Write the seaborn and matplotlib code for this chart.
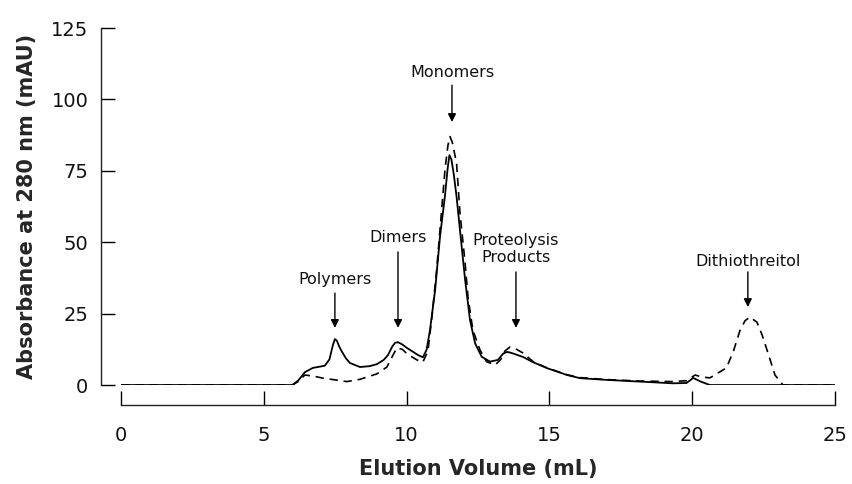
import matplotlib
matplotlib.use("Agg")
import matplotlib.pyplot as plt
import seaborn as sns
import pandas as pd

# Chromatogram traces: elution volume (mL) vs absorbance at 280 nm (mAU)
solid_x = [0, 6.0, 6.2, 6.44, 6.72, 7.0, 7.14, 7.3, 7.42, 7.49, 7.56, 7.64, 7.74,
           7.88, 8.02, 8.37, 8.7, 8.96, 9.2, 9.35, 9.5, 9.6, 9.7, 9.85, 10.01,
           10.2, 10.4, 10.57, 10.7, 10.82, 11.0, 11.17, 11.34, 11.44, 11.5, 11.57,
           11.65, 11.75, 11.93, 12.05, 12.22, 12.4, 12.63, 12.92, 13.2, 13.38,
           13.52, 13.65, 13.8, 14.08, 14.43, 14.92, 15.62, 16.07, 17.0, 18.17,
           19.33, 19.8, 19.95, 20.03, 20.3, 20.62, 25]
solid_y = [0, 0, 1.5, 4.5, 6, 6.5, 6.8, 9, 14, 16.1, 15.5, 13.5, 11.6,
           9.3, 7.7, 6.3, 6.6, 7.3, 8.8, 10.5, 13.5, 14.8, 15, 14.2, 13,
           11.8, 10.5, 9.7, 12.3, 19.3, 33.3, 51.9, 65.9, 76, 80.5, 79,
           74, 66, 48.4, 36.8, 22.8, 14.6, 9.9, 8.2, 8.8, 11,
           11.6, 11.3, 10.8, 9.8, 8, 5.9, 3.5, 2.4, 1.8, 1.2,
           0.6, 0.7, 1.8, 2.5, 1.2, 0, 0]

dashed_x = [0, 6.0, 6.2, 6.44, 6.8, 7.07, 7.5, 7.91, 8.37, 8.96, 9.31, 9.5, 9.66,
            9.85, 10.01, 10.2, 10.36, 10.57, 10.75, 10.9, 11.05, 11.2, 11.35, 11.45,
            11.52, 11.6, 11.75, 11.87, 12.05, 12.15, 12.32, 12.57, 12.8, 13.1, 13.3,
            13.45, 13.62, 13.85, 14.08, 14.43, 14.92, 15.62, 16.07, 17.0, 18.17,
            19.33, 19.8, 20.1, 20.35, 20.62, 21.2, 21.45, 21.67, 21.85, 22.02, 22.27,
            22.45, 22.62, 22.9, 23.18, 25]
dashed_y = [0, 0, 1.2, 3.5, 3.0, 2.4, 1.8, 1.2, 2, 3.9, 6.3, 10, 13,
            12.5, 11, 9.8, 8.8, 8, 12, 25, 40, 58, 76, 84,
            87, 85, 77.7, 60.2, 42.7, 30.8, 19.3, 12.3, 8.2, 7, 9,
            12, 13.3, 12.5, 11.2, 8.2, 6, 3.6, 2.6, 1.9, 1.4,
            1.2, 1.5, 3.5, 2.8, 2.5, 6, 12, 19, 22.5, 23.8, 22,
            17.5, 12.3, 3.5, 0, 0]

# Peak annotations: label, arrow x, arrow tip y, arrow tail y, text centre y
peak_labels = ["Polymers", "Dimers", "Monomers", "Proteolysis\nProducts", "Dithiothreitol"]
peak_x = [7.49, 9.70, 11.59, 13.83, 21.95]
tip_y = [20, 20, 92.1, 20, 27.3]
tail_y = [32.2, 46.6, 105, 39.6, 39.6]
text_y = [37.1, 51.5, 109.6, 47.6, 43.4]

x_ticks = [0, 5, 10, 15, 20, 25]
y_ticks = [0, 25, 50, 75, 100, 125]

sns.set_theme(style="ticks")
plt.rcParams["font.family"] = ["DejaVu Sans"]

fig = plt.figure(figsize=(8.52, 4.84), dpi=100)
ax = fig.add_axes([0.142, 0.2045, 0.838, 0.7375])

solid = pd.DataFrame({"x": solid_x, "y": solid_y})
dashed = pd.DataFrame({"x": dashed_x, "y": dashed_y})
sns.lineplot(data=solid, x="x", y="y", ax=ax, color="black", lw=1.3,
             estimator=None, sort=False)
sns.lineplot(data=dashed, x="x", y="y", ax=ax, color="black", lw=1.2,
             estimator=None, sort=False, linestyle=(0, (5, 3.5)))

for lab, px, ty, tl, yy in zip(peak_labels, peak_x, tip_y, tail_y, text_y):
    ax.annotate("", xy=(px, ty), xytext=(px, tl),
                arrowprops=dict(arrowstyle="-|>", color="black", lw=1.0,
                                mutation_scale=12, shrinkA=0, shrinkB=0))
    ax.text(px, yy, lab, ha="center", va="center",
            fontsize=11.5, color="#111111", linespacing=1.15)

ax.set_xlim(0, 25)
ax.set_ylim(0, 125)
ax.set_xticks(x_ticks)
ax.set_yticks(y_ticks)
ax.tick_params(axis="both", direction="in", length=10, width=1.0, colors="black",
               labelsize=14, labelcolor="#111111")
ax.tick_params(axis="x", pad=15)
ax.tick_params(axis="y", pad=9)
for s in ["left", "bottom"]:
    ax.spines[s].set_linewidth(1.0)
    ax.spines[s].set_color("#222222")
sns.despine(ax=ax, offset=14.4, trim=True)

ax.set_xlabel("Elution Volume (mL)", fontsize=15, fontweight="bold", labelpad=10)
ax.set_ylabel("Absorbance at 280 nm (mAU)", fontsize=15, fontweight="bold", labelpad=10)

fig.savefig("out.png", dpi=100)
